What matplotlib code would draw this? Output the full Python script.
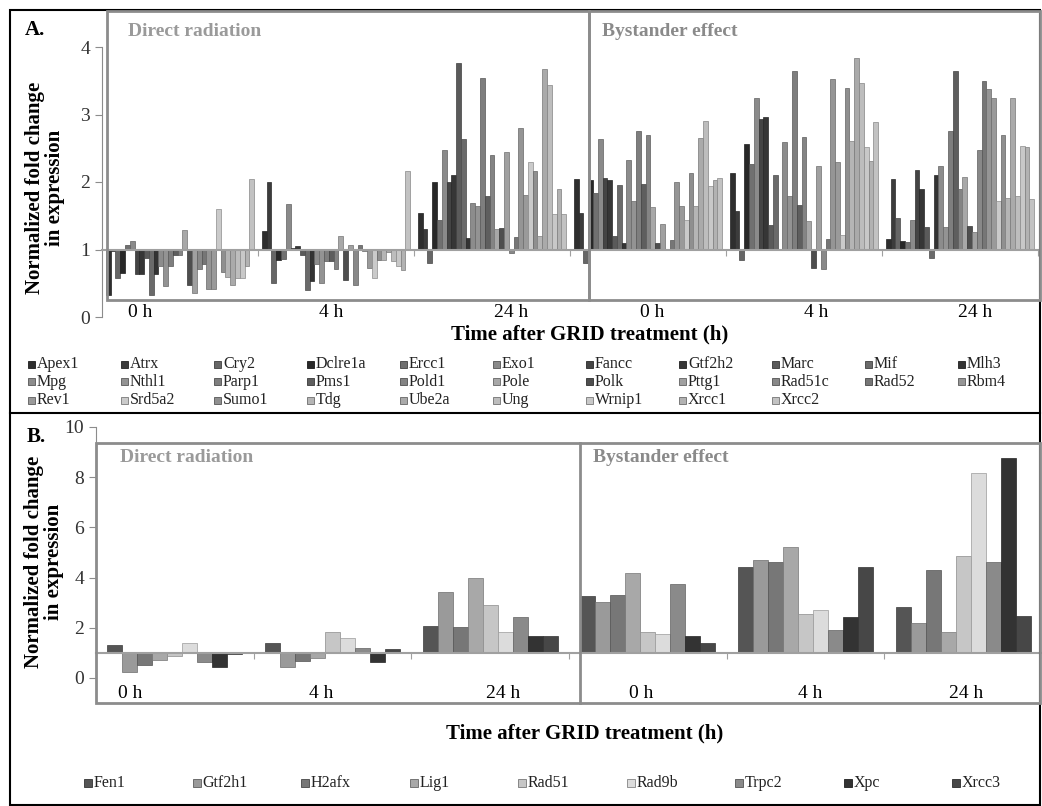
import numpy as np
import matplotlib.pyplot as plt
from matplotlib.patches import Rectangle
from matplotlib.lines import Line2D
from matplotlib.colors import to_rgb

plt.rcParams['font.family'] = ['Liberation Serif', 'DejaVu Serif']

W, H = 1042, 806

# ---- Panel A: DNA repair genes, fold change per time point ----
genes_a = ['Apex1', 'Atrx', 'Cry2', 'Dclre1a', 'Ercc1', 'Exo1', 'Fancc', 'Gtf2h2',
           'Marc', 'Mif', 'Mlh3', 'Mpg', 'Nthl1', 'Parp1', 'Pms1', 'Pold1', 'Pole',
           'Polk', 'Pttg1', 'Rad51c', 'Rad52', 'Rbm4', 'Rev1', 'Srd5a2', 'Sumo1',
           'Tdg', 'Ube2a', 'Ung', 'Wrnip1', 'Xrcc1', 'Xrcc2']
grey_a = ['#2e2e2e', '#3c3c3c', '#666666', '#282828', '#707070', '#8a8a8a', '#444444',
          '#363636', '#5a5a5a', '#6a6a6a', '#333333', '#8c8c8c', '#939393', '#7e7e7e',
          '#5e5e5e', '#848484', '#a8a8a8', '#4e4e4e', '#a0a0a0', '#888888', '#767676',
          '#959595', '#9a9a9a', '#cacaca', '#8f8f8f', '#b5b5b5', '#aaaaaa', '#bdbdbd',
          '#c8c8c8', '#b2b2b2', '#c2c2c2']

direct_0h = [0.32, 0.98, 0.58, 0.65, 1.07, 1.12, 0.63, 0.63, 0.88, 0.32, 0.64, 0.75,
             0.46, 0.75, 0.92, 0.92, 1.29, 0.48, 0.36, 0.71, 0.79, 0.42, 0.42, 1.6,
             0.66, 0.6, 0.47, 0.58, 0.58, 0.75, 2.05]
direct_4h = [1.27, 2.0, 0.5, 0.84, 0.86, 1.68, 1.02, 1.05, 0.92, 0.4, 0.53, 0.79,
             0.51, 0.83, 0.83, 0.71, 1.2, 0.55, 1.07, 0.48, 1.07, 0.98, 0.73, 0.58,
             0.85, 0.85, 0.97, 0.83, 0.75, 0.7, 2.17]
direct_24h = [1.54, 1.3, 0.8, 2.0, 1.44, 2.47, 2.0, 2.1, 3.77, 2.64, 1.17, 1.69,
              1.64, 3.54, 1.8, 2.4, 1.3, 1.32, 2.44, 0.95, 1.19, 2.8, 1.81, 2.29,
              2.16, 1.2, 3.67, 3.44, 1.52, 1.9, 1.52]
bystander_0h = [2.05, 1.54, 0.8, 2.03, 1.83, 2.63, 2.06, 2.03, 1.2, 1.96, 1.1, 2.32,
                1.72, 2.75, 1.97, 2.7, 1.63, 1.1, 1.38, 1.0, 1.14, 2.0, 1.64, 1.44,
                2.14, 1.64, 2.65, 2.9, 1.94, 2.03, 2.06]
bystander_4h = [2.14, 1.57, 0.85, 2.56, 2.26, 3.25, 2.94, 2.96, 1.37, 2.11, 1.0, 2.6,
                1.8, 3.64, 1.66, 2.67, 1.42, 0.73, 2.23, 0.71, 1.15, 3.53, 2.29, 1.22,
                3.4, 2.61, 3.84, 3.47, 2.52, 2.31, 2.89]
bystander_24h = [1.16, 2.04, 1.47, 1.12, 1.11, 1.44, 2.18, 1.89, 1.34, 0.88, 2.11, 2.23,
                 1.34, 2.75, 3.64, 1.89, 2.07, 1.35, 1.26, 2.47, 3.5, 3.38, 3.24, 1.72,
                 2.7, 1.77, 3.24, 1.79, 2.53, 2.52, 1.75]

# ---- Panel B ----
genes_b = ['Fen1', 'Gtf2h1', 'H2afx', 'Lig1', 'Rad51', 'Rad9b', 'Trpc2', 'Xpc', 'Xrcc3']
grey_b = ['#555555', '#9a9a9a', '#777777', '#a8a8a8', '#c6c6c6', '#dcdcdc', '#8a8a8a',
          '#333333', '#474747']
b_direct_0h = [1.33, 0.25, 0.53, 0.73, 0.87, 1.39, 0.62, 0.44, 0.97]
b_direct_4h = [1.38, 0.44, 0.66, 0.8, 1.85, 1.59, 1.19, 0.64, 1.17]
b_direct_24h = [2.08, 3.44, 2.03, 4.0, 2.91, 1.83, 2.42, 1.66, 1.66]
b_bystander_0h = [3.27, 3.02, 3.31, 4.17, 1.85, 1.76, 3.75, 1.68, 1.39]
b_bystander_4h = [4.41, 4.7, 4.64, 5.23, 2.56, 2.69, 1.92, 2.45, 4.41]
b_bystander_24h = [2.82, 2.21, 4.3, 1.85, 4.86, 8.17, 4.61, 8.77, 2.48]

timepoints = ['0 h', '4 h', '24 h', '0 h', '4 h', '24 h']

fig = plt.figure(figsize=(W / 100, H / 100), dpi=100)


def fx(px):
    return px / W


def fy(py):
    return 1 - py / H


def px_axes(x0, y0, x1, y1):
    return fig.add_axes([fx(x0), fy(y1), (x1 - x0) / W, (y1 - y0) / H])


def px_box(x0, y0, x1, y1, color='#8c8c8c', lw=2.0):
    fig.add_artist(Rectangle((fx(x0), fy(y1)), (x1 - x0) / W, (y1 - y0) / H,
                             transform=fig.transFigure, fill=False,
                             edgecolor=color, linewidth=lw))


def px_text(x, y, s, **kw):
    fig.text(fx(x), fy(y), s, **kw)


def darker(c, f=0.7):
    return tuple(v * f for v in to_rgb(c))


def bar_panel(ax, groups, colors, gap, ymax, ystep):
    vals = np.array(groups)
    n = vals.shape[1]
    w = 1 / (n + gap)
    centres = np.arange(len(vals)) + 0.5
    for j in range(n):
        xs = centres + (j - (n - 1) / 2) * w
        ax.bar(xs, vals[:, j] - 1, bottom=1, width=w, color=colors[j],
               edgecolor=darker(colors[j]), linewidth=0.5, zorder=2)
    ax.set_xlim(0, len(vals))
    ax.set_ylim(0, ymax)
    ax.set_yticks(np.arange(0, ymax + 0.01, ystep))
    ax.set_xticks(np.arange(1, len(vals) + 1))
    ax.set_xticklabels([])
    for s in ('top', 'right'):
        ax.spines[s].set_visible(False)
    ax.spines['left'].set_color('#8c8c8c')
    ax.spines['bottom'].set_color('#a0a0a0')
    ax.spines['bottom'].set_linewidth(1.5)
    ax.spines['bottom'].set_position(('data', 1))
    ax.tick_params(axis='y', colors='#8c8c8c', labelcolor='#333333', labelsize=14,
                   length=5, direction='out')
    ax.tick_params(axis='x', colors='#a0a0a0', length=4, direction='out')
    ax.patch.set_alpha(0)


def legend_row(names, colors, x0, step, y, size, box):
    for k, (name, c) in enumerate(zip(names, colors)):
        x = x0 + k * step
        fig.add_artist(Rectangle((fx(x), fy(y + box / 2)), box / W, box / H,
                                 transform=fig.transFigure, facecolor=c,
                                 edgecolor=darker(c, 0.6), linewidth=0.6))
        px_text(x + box + 2, y, name, fontsize=size, va='center', ha='left', color='#222222')


# outer border and panel separator
px_box(10, 10, 1040, 805, color='black', lw=1.5)
fig.add_artist(Line2D([fx(10), fx(1040)], [fy(413), fy(413)], transform=fig.transFigure,
                      color='black', linewidth=1.5))

# ---------------- Panel A ----------------
axA = px_axes(102, 47, 1038, 317)
bar_panel(axA, [direct_0h, direct_4h, direct_24h, bystander_0h, bystander_4h, bystander_24h],
          grey_a, gap=1.6, ymax=4, ystep=1)
px_box(107, 11, 589, 300)
px_box(589, 11, 1040, 300)
px_text(25, 30, 'A.', fontsize=15, fontweight='bold', va='center')
px_text(128, 31, 'Direct radiation', fontsize=14, fontweight='bold', color='#9a9a9a', va='center')
px_text(602, 31, 'Bystander effect', fontsize=14, fontweight='bold', color='#8a8a8a', va='center')
px_text(45, 188, 'Normalized fold change\nin expression', fontsize=15, fontweight='bold',
        rotation=90, ha='center', va='center', linespacing=1.0)
shift_a = [-0.256, -0.032, 0.122, 0.026, 0.077, 0.096]
for i, (lab, s) in enumerate(zip(timepoints, shift_a)):
    axA.text(i + 0.5 + s, 0.06, lab, fontsize=14, ha='center', va='center')
px_text(590, 334, 'Time after GRID treatment (h)', fontsize=15, fontweight='bold',
        ha='center', va='center')

order_rows = [genes_a[0:11], genes_a[11:22], genes_a[22:31]]
color_rows = [grey_a[0:11], grey_a[11:22], grey_a[22:31]]
for r, (names, cols) in enumerate(zip(order_rows, color_rows)):
    legend_row(names, cols, 28, 93, 364 + r * 18, 11.5, 7)

# ---------------- Panel B ----------------
axB = px_axes(96, 427, 1042, 678)
bar_panel(axB, [b_direct_0h, b_direct_4h, b_direct_24h, b_bystander_0h, b_bystander_4h,
                b_bystander_24h], grey_b, gap=1.5, ymax=10, ystep=2)
px_box(96, 443, 1040, 703)
fig.add_artist(Line2D([fx(580), fx(580)], [fy(443), fy(703)], transform=fig.transFigure,
                      color='#8c8c8c', linewidth=2.0))
px_text(27, 437, 'B.', fontsize=15, fontweight='bold', va='center')
px_text(120, 457, 'Direct radiation', fontsize=14, fontweight='bold', color='#9a9a9a', va='center')
px_text(593, 457, 'Bystander effect', fontsize=14, fontweight='bold', color='#8a8a8a', va='center')
px_text(44, 562, 'Normalized fold change\nin expression', fontsize=15, fontweight='bold',
        rotation=90, ha='center', va='center', linespacing=1.0)
shift_b = [-0.284, -0.07, 0.08, -0.04, 0.03, 0.02]
for i, (lab, s) in enumerate(zip(timepoints, shift_b)):
    px_text(96 + (i + 0.5 + s) * 157.7, 694, lab, fontsize=14, ha='center', va='center')
px_text(585, 733, 'Time after GRID treatment (h)', fontsize=15, fontweight='bold',
        ha='center', va='center')
legend_row(genes_b, grey_b, 84, 108.5, 783, 11.5, 8)

fig.savefig('out.png', dpi=100)
